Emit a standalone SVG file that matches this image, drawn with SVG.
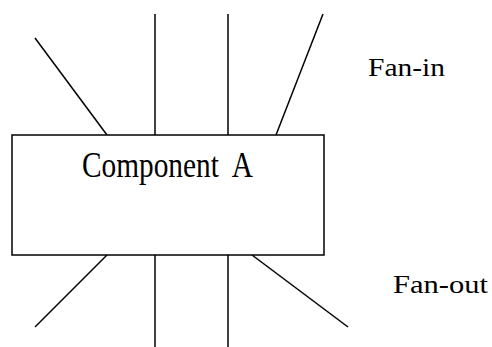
<svg xmlns="http://www.w3.org/2000/svg" width="492" height="347" viewBox="0 0 492 347">
  <style>
    .edge { stroke: #000; stroke-width: 1.5; fill: none; }
    .box { fill: #fff; stroke: #000; stroke-width: 1.5; }
    .lbl { font-family: "Liberation Serif", "Times New Roman", serif; fill: #000; }
  </style>
  <rect width="492" height="347" fill="#fff"/>
  <g id="connectors">
    <!-- fan-in lines -->
    <line class="edge" x1="35" y1="38" x2="107" y2="135"/>
    <line class="edge" x1="155" y1="14" x2="155" y2="135"/>
    <line class="edge" x1="228" y1="14" x2="228" y2="135"/>
    <line class="edge" x1="323" y1="14" x2="276" y2="135"/>
    <!-- fan-out lines -->
    <line class="edge" x1="107" y1="255" x2="35" y2="327"/>
    <line class="edge" x1="155" y1="255" x2="155" y2="347"/>
    <line class="edge" x1="228" y1="255" x2="228" y2="347"/>
    <line class="edge" x1="252" y1="255" x2="348" y2="327"/>
  </g>
  <g id="component-a">
    <rect class="box" x="12" y="135" width="312" height="120"/>
    <text class="lbl" x="82" y="177" font-size="35" textLength="171" lengthAdjust="spacingAndGlyphs" xml:space="preserve">Component  A</text>
  </g>
  <g id="fan-in-label">
    <text class="lbl" x="368" y="76" font-size="26" textLength="77" lengthAdjust="spacingAndGlyphs">Fan-in</text>
  </g>
  <g id="fan-out-label">
    <text class="lbl" x="393" y="293" font-size="26" textLength="95" lengthAdjust="spacingAndGlyphs">Fan-out</text>
  </g>
</svg>
